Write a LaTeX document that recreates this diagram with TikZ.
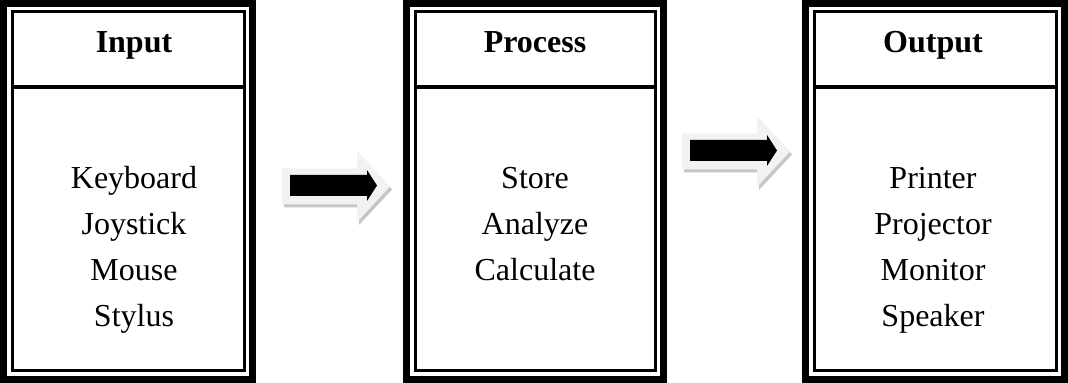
\documentclass[tikz,border=0pt]{standalone}
\usepackage{fontspec}
\setmainfont{Liberation Serif}
\usetikzlibrary{positioning}
\tikzstyle{heading} = [font=\fontsize{16}{19}\selectfont\bfseries, anchor=base, inner sep=0pt]
\tikzstyle{item} = [font=\fontsize{16}{19}\selectfont, anchor=base, inner sep=0pt]
\tikzstyle{thickrule} = [line width=3.5pt]
\tikzstyle{thinrule} = [line width=1.5pt]
\tikzstyle{lightarrow} = [fill=gray!10]
\tikzstyle{arrowshade} = [fill=gray!45]
\newcommand{\ipobox}[2]{%
  \draw[thickrule] (#1+3.5,3.5) rectangle (#2-3.5,379.5);
  \draw[thinrule] (#1+12,12) rectangle (#2-12,371);
  \draw[line width=2pt] (#1+12,87) -- (#2-12,87);}

\begin{document}
\begin{tikzpicture}[x=0.5pt,y=-0.5pt]
			\useasboundingbox (0,0) rectangle (1068,383);
			\ipobox{0}{256}
			\ipobox{403}{667}
			\ipobox{802}{1068}
			\node[heading] (input) at (134,53) {Input};
			\node[heading] (process) at (535,53) {Process};
			\node[heading] (output) at (933,53) {Output};
			\foreach \t [count=\i] in {Keyboard,Joystick,Mouse,Stylus}
				\node[item] (input-\i) at (134,189+46*\i-46) {\t};
			\foreach \t [count=\i] in {Store,Analyze,Calculate}
				\node[item] (process-\i) at (535,189+46*\i-46) {\t};
			\foreach \t [count=\i] in {Printer,Projector,Monitor,Speaker}
				\node[item] (output-\i) at (933,189+46*\i-46) {\t};
			\foreach \ax/\ay in {282/186.5,682/151.5} {
				\begin{scope}[shift={(\ax,\ay)}]
					\fill[arrowshade] (2,-15) -- (77,-15) -- (77,-32.5) -- (110,3) -- (77,38.5) -- (77,21) -- (2,21) -- cycle;
					\fill[lightarrow] (0,-18) -- (75,-18) -- (75,-35.5) -- (108,0) -- (75,35.5) -- (75,18) -- (0,18) -- cycle;
					\fill (8,-11.5) -- (85,-11.5) -- (85,-16.5) -- (95,-1) -- (85,14.5) -- (85,9.5) -- (8,9.5) -- cycle;
				\end{scope}
			}
		\end{tikzpicture}
\end{document}
